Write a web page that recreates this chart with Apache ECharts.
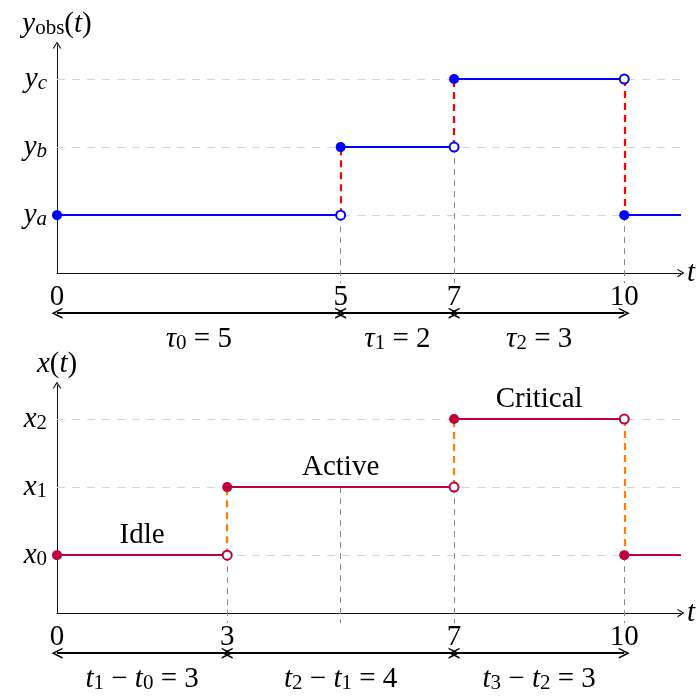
<!DOCTYPE html>
<html>
<head>
<meta charset="utf-8">
<script src="https://cdn.jsdelivr.net/npm/echarts@6/dist/echarts.min.js"></script>
<style>
  html, body { margin: 0; background: #fff; }
  #chart { width: 699px; height: 696px; }
</style>
</head>
<body>
<div id="chart"></div>
<script>
// ---- data ----
const T_END = 11;

// observed signal y_obs(t)
const obsTimes = [0, 5, 7, 10];
const obsLevels = [1, 2, 3, 1];
const obsLevelNames = ["a", "b", "c"];
const obsDurations = [5, 2, 3];
const obsDrops = [[5, 1], [7, 2], [10, 1]];

// hidden state x(t)
const stateTimes = [0, 3, 7, 10];
const stateLevels = [1, 2, 3, 1];
const stateLevelNames = ["0", "1", "2"];
const stateDurations = [3, 4, 3];
const stateDrops = [[3, 1], [5, 2], [7, 2], [10, 1]];
const stateLabels = ["Idle", "Active", "Critical"];

// ---- layout / style ----
const SERIF = "Liberation Serif";
const FS = 29;
const Y_MIN = 0.15;
const Y_MAX = 3.5;
const DROP_END = 0.0;   // gray guides stop a little under the axis
const ARROW_Y = -0.44;  // row of double arrows
const NOTE_Y = -0.82;   // row of duration labels

const CHEVRON = "path://M0,8 L5,0 L10,8 L8.5,8 L5,2.4 L1.5,8 Z";

const rich = {
  v: { fontFamily: SERIF, fontStyle: "italic", fontSize: FS, lineHeight: 30, color: "#000" },
  n: { fontFamily: SERIF, fontSize: FS, lineHeight: 30, color: "#000" },
  s: { fontFamily: SERIF, fontStyle: "italic", fontSize: 21, lineHeight: 10, verticalAlign: "bottom", color: "#000" },
  u: { fontFamily: SERIF, fontSize: 21, lineHeight: 10, verticalAlign: "bottom", color: "#000" },
};

function xAxisFor(p, ticks) {
  return {
    type: "value",
    gridIndex: p,
    min: 0,
    max: T_END,
    name: "{v|t}",
    nameLocation: "end",
    nameGap: 6,
    nameTextStyle: { rich },
    axisLine: {
      show: true,
      onZero: false,
      symbol: ["none", CHEVRON],
      symbolSize: [10, 7],
      lineStyle: { color: "#111", width: 1 },
    },
    axisTick: { show: false },
    splitLine: { show: false },
    axisLabel: {
      customValues: ticks,
      fontFamily: SERIF,
      fontSize: FS,
      color: "#000",
      margin: 10,
    },
  };
}

function yAxisFor(p, names, title) {
  return {
    type: "value",
    gridIndex: p,
    min: Y_MIN,
    max: Y_MAX,
    name: title,
    nameLocation: "end",
    nameGap: 6,
    nameTextStyle: { rich },
    axisLine: {
      show: true,
      onZero: false,
      symbol: ["none", CHEVRON],
      symbolSize: [10, 7],
      lineStyle: { color: "#111", width: 1 },
    },
    axisTick: { show: false },
    splitLine: { show: false },
    axisLabel: {
      customValues: names.map((_, i) => i + 1),
      margin: 10,
      formatter: (v) => (p === 0 ? `{v|y}{s|${names[v - 1]}}` : `{v|x}{u|${names[v - 1]}}`),
      rich,
    },
  };
}

function panelSeries(p, times, levels, drops, durations, noteFmt, stepColor, jumpColor) {
  const ax = { xAxisIndex: p, yAxisIndex: p };
  const ends = times.slice(1).concat([T_END]);
  const gridRows = levels.slice(0, 3).map((_, i) => ({ coords: [[0, i + 1], [T_END, i + 1]] }));
  const steps = times.map((t, i) => ({ coords: [[t, levels[i]], [ends[i], levels[i]]] }));
  const jumps = times.slice(1).map((t, i) => ({ coords: [[t, levels[i]], [t, levels[i + 1]]] }));
  const guides = drops.map(([t, l]) => ({ coords: [[t, l], [t, DROP_END]] }));
  const spans = times.slice(0, -1).map((t, i) => ({ coords: [[t, ARROW_Y], [times[i + 1], ARROW_Y]] }));
  const notes = times.slice(0, -1).map((t, i) => ({
    value: [(t + times[i + 1]) / 2, NOTE_Y],
    label: { formatter: noteFmt(i, durations[i]) },
  }));
  const filled = times.map((t, i) => [t, levels[i]]);
  const open = times.slice(1).map((t, i) => [t, levels[i]]);

  return [
    { type: "lines", coordinateSystem: "cartesian2d", ...ax, clip: false, silent: true, z: 1,
      lineStyle: { color: "#d6d6d6", width: 1, type: [8, 7], opacity: 1 }, data: gridRows },
    { type: "lines", coordinateSystem: "cartesian2d", ...ax, clip: false, silent: true, z: 2,
      lineStyle: { color: "#8a8a8a", width: 1, type: [6, 5], opacity: 1 }, data: guides },
    { type: "lines", coordinateSystem: "cartesian2d", ...ax, clip: false, silent: true, z: 3,
      lineStyle: { color: jumpColor, width: 2.2, type: [7, 5], opacity: 1 }, data: jumps },
    { type: "lines", coordinateSystem: "cartesian2d", ...ax, clip: false, silent: true, z: 4,
      lineStyle: { color: stepColor, width: 2.2, type: "solid", opacity: 1 }, data: steps },
    { type: "lines", coordinateSystem: "cartesian2d", ...ax, clip: false, silent: true, z: 4,
      symbol: [CHEVRON, CHEVRON], symbolSize: 11,
      lineStyle: { color: "#000", width: 2, type: "solid", opacity: 1 }, data: spans },
    { type: "scatter", ...ax, clip: false, silent: true, z: 5, symbolSize: 1,
      itemStyle: { color: "transparent", opacity: 1 },
      label: { show: true, position: "inside", color: "#000", textBorderWidth: 0, rich }, data: notes },
    { type: "scatter", ...ax, clip: false, silent: true, z: 6, symbol: "circle", symbolSize: 10,
      itemStyle: { color: stepColor, opacity: 1 }, data: filled },
    { type: "scatter", ...ax, clip: false, silent: true, z: 6, symbol: "circle", symbolSize: 9,
      itemStyle: { color: "#fff", borderColor: stepColor, borderWidth: 2, opacity: 1 }, data: open },
  ];
}

const stateNoteSeries = {
  type: "scatter", xAxisIndex: 1, yAxisIndex: 1, clip: false, silent: true, z: 5, symbolSize: 1,
  itemStyle: { color: "transparent", opacity: 1 },
  label: {
    show: true, position: "top", distance: 5,
    fontFamily: SERIF, fontSize: FS, color: "#000", textBorderWidth: 0,
    formatter: (p) => stateLabels[p.dataIndex],
  },
  data: stateLabels.map((_, i) => [
    (stateTimes[i] + stateTimes[i + 1]) / 2,
    stateLevels[i],
  ]),
};

const chart = echarts.init(document.getElementById("chart"), null, { renderer: "canvas" });
chart.setOption({
  animation: false,
  backgroundColor: "#fff",
  grid: [
    { left: 57, right: 18, top: 45, height: 228 },
    { left: 57, right: 18, top: 385, height: 228 },
  ],
  xAxis: [xAxisFor(0, obsTimes), xAxisFor(1, stateTimes)],
  yAxis: [
    yAxisFor(0, obsLevelNames, "{v|y}{u|obs}{n|(}{v|t}{n|)}"),
    yAxisFor(1, stateLevelNames, "{v|x}{n|(}{v|t}{n|)}"),
  ],
  series: [
    ...panelSeries(0, obsTimes, obsLevels, obsDrops, obsDurations,
      (i, d) => `{v|τ}{u|${i}}{n| = ${d}}`, "#0000ff", "#ff0000"),
    ...panelSeries(1, stateTimes, stateLevels, stateDrops, stateDurations,
      (i, d) => `{v|t}{u|${i + 1}}{n| − }{v|t}{u|${i}}{n| = ${d}}`, "#c0003c", "#ff8000"),
    stateNoteSeries,
  ],
});
</script>
</body>
</html>
